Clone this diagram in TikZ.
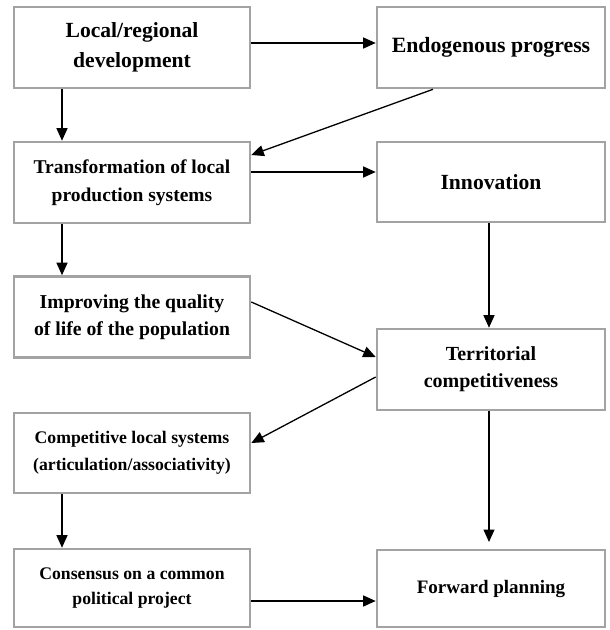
\documentclass[tikz,border=0pt]{standalone}
\usepackage{fontspec}
\setmainfont{Liberation Serif}
\usetikzlibrary{arrows.meta}
\newcommand{\fs}[2]{\bfseries\fontsize{#1}{#2}\selectfont}
\begin{document}
\begin{tikzpicture}[x=1pt,y=-1pt,
  box/.style={draw=black!36,line width=2.6pt,fill=white,align=center,inner sep=0pt},
  lbox/.style={box,minimum width=236pt},
  rbox/.style={box,minimum width=228pt},
  arr/.style={line width=1.3pt,-{Triangle[length=12.5pt,width=11pt]}}]
\useasboundingbox (0,0) rectangle (610,630);
\node[lbox,minimum height=81pt,font=\fs{21.6}{30}] (ld) at (132,47.5) {Local/regional\\development};
\node[rbox,minimum height=81pt,font=\fs{21.8}{30}] (ep) at (491,47.5) {Endogenous progress};
\node[lbox,minimum height=81pt,font=\fs{19.5}{28}] (tr) at (132,182.5) {Transformation of local\\production systems};
\node[rbox,minimum height=80pt,font=\fs{21.6}{28}] (in) at (491,182) {Innovation};
\node[lbox,minimum height=81pt,font=\fs{19.7}{27}] (iq) at (132,317) {Improving the quality\\of life of the population};
\node[rbox,minimum height=81pt,font=\fs{20}{27}] (tc) at (491,369.5) {Territorial\\competitiveness};
\node[lbox,minimum height=80pt,font=\fs{17.7}{27}] (cl) at (132,453) {Competitive local systems\\(articulation/associativity)};
\node[lbox,minimum height=78pt,font=\fs{17.7}{25}] (cp) at (132,588) {Consensus on a common\\political project};
\node[rbox,minimum height=77pt,font=\fs{19}{25}] (fp) at (491,588.5) {Forward planning};
\draw[arr] (ld.east |- 0,43) -- (ep.west |- 0,43);
\draw[arr] (ld.south -| 62,0) -- (tr.north -| 62,0);
\draw[arr] (ep.south -| 433,0) -- (tr.east |- 0,155);
\draw[arr] (tr.east |- 0,172) -- (in.west |- 0,172);
\draw[arr] (tr.south -| 62,0) -- (iq.north -| 62,0);
\draw[arr] (in.south -| 489,0) -- (tc.north -| 489,0);
\draw[arr] (iq.east |- 0,302) -- (tc.west |- 0,357);
\draw[arr] (tc.west |- 0,377) -- (cl.east |- 0,443);
\draw[arr] (cl.south -| 62,0) -- (cp.north -| 62,0);
\coordinate (fptop) at (489,542);
\draw[arr] (tc.south -| 489,0) -- (fptop);
\draw[arr] (cp.east |- 0,601) -- (fp.west |- 0,601);
\end{tikzpicture}
\end{document}
